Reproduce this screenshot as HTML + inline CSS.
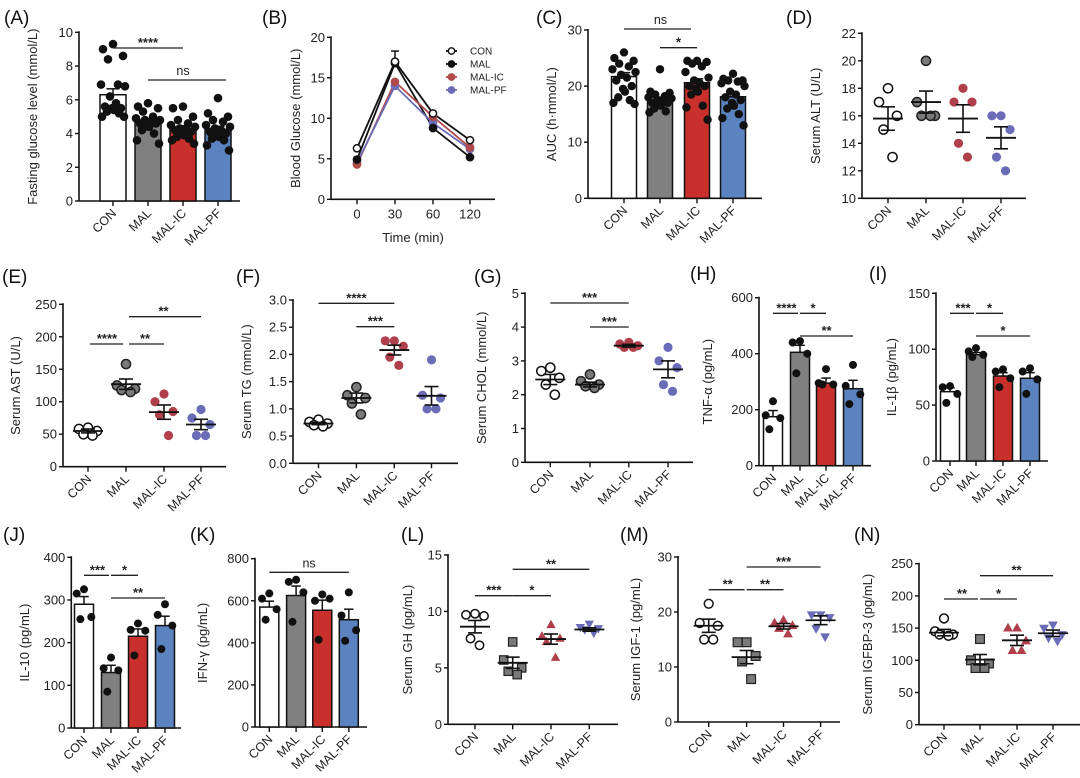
<!DOCTYPE html>
<html><head><meta charset="utf-8"><style>
html,body{margin:0;padding:0;background:#fff;}
svg{display:block;font-family:"Liberation Sans",Arial,sans-serif;}
</style></head><body>
<svg id="fig" width="1080" height="778" viewBox="0 0 1080 778" xmlns="http://www.w3.org/2000/svg"></svg>
<script>
const NS="http://www.w3.org/2000/svg";
const svg=document.getElementById('fig');
const cats=["CON","MAL","MAL-IC","MAL-PF"];
// ---- data ----
const A_pts=[[9.3,9.0,8.6,8.4,6.9,6.9,6.8,6.2,5.8,5.6,5.5,5.5,5.4,5.3,5.2,5.0,5.0],[5.8,5.6,5.5,5.3,5.0,4.9,4.8,4.8,4.7,4.6,4.6,4.5,4.4,4.2,4.0,3.6,3.4],[5.6,5.5,5.0,4.8,4.6,4.5,4.4,4.3,4.3,4.2,4.1,4.0,3.9,3.8,3.7,3.6,3.4],[6.1,5.2,5.0,4.8,4.7,4.5,4.4,4.3,4.2,4.1,4.0,3.9,3.8,3.7,3.6,3.3,3.0]];
const A_mean=[6.3,4.65,4.3,4.25]; const A_sem=[0.35,0.17,0.16,0.18];
const A_ticks=[0,2,4,6,8,10];
const B_time=["0","30","60","120"];
const B_con=[6.3,17.0,10.6,7.3], B_mal=[4.9,16.8,8.8,5.2], B_ic=[4.3,14.5,10.2,6.4], B_pf=[4.5,14.0,9.4,6.2];
const B_ticks=[0,5,10,15,20];
const C_pts=[[26,25,24.5,24,23.5,23,22.5,22,21.5,21,20,19.5,19,18,17.5,17,16.8],[23,19,18.8,18.5,18.2,18,17.8,17.5,17.3,17,17,16.8,16.5,16,15.5,15.3],[24.5,24.5,24.3,24,23.5,22.5,21.5,21,20.5,20,20,19.5,19,18.5,16.5,16.2,14],[22.2,21.3,21,21,20.8,20.5,20,19,18.5,18,17.5,17,16.5,16,15,14.3,13]];
const C_mean=[21.7,17.6,20.6,18.1]; const C_sem=[0.7,0.45,0.7,0.65];
const C_ticks=[0,10,20,30];
const D_pts=[[18,17,16,15,13],[20,17,16,16,16],[18,17,17,14,13],[16,16,15,13,12]];
const D_mean=[15.8,17,15.8,14.4]; const D_sem=[0.85,0.8,1.0,0.8];
const D_ticks=[10,12,14,16,18,20,22];
const E_pts=[[60,58,55,50,48],[158,125,120,118,115],[112,100,85,80,48],[88,75,65,48,48]];
const E_mean=[55,127,84,65]; const E_sem=[3,8,11,8];
const E_ticks=[0,50,100,150,200,250];
const F_pts=[[0.8,0.76,0.73,0.7,0.68],[1.4,1.25,1.2,1.1,0.9],[2.25,2.25,2.15,1.95,1.8],[1.9,1.25,1.2,1.0,1.0]];
const F_mean=[0.73,1.2,2.08,1.24]; const F_sem=[0.02,0.09,0.09,0.17];
const F_ticks=["0.0","0.5","1.0","1.5","2.0","2.5","3.0"];
const G_pts=[[2.8,2.7,2.5,2.3,2.0],[2.6,2.4,2.3,2.25,2.2],[3.55,3.5,3.45,3.4,3.4],[3.4,3.0,2.8,2.3,2.1]];
const G_mean=[2.45,2.3,3.45,2.75]; const G_sem=[0.15,0.07,0.04,0.25];
const G_ticks=[0,1,2,3,4,5];
const H_pts=[[230,180,170,130],[445,440,400,330],[345,295,290,290],[360,285,255,220]];
const H_mean=[175,405,295,275]; const H_sem=[22,25,18,30];
const H_ticks=[0,200,400,600];
const I_pts=[[67,66,60,52],[101,98,95,93],[82,80,74,66],[83,80,73,60]];
const I_mean=[62,95,76,74]; const I_sem=[3.5,2,3,5];
const I_ticks=[0,50,100,150];
const J_pts=[[325,315,260,255],[165,140,135,85],[245,230,228,170],[290,265,240,185]];
const J_mean=[290,130,215,240]; const J_sem=[18,17,17,22];
const J_ticks=[0,100,200,300,400];
const K_pts=[[635,610,560,510],[700,690,640,500],[630,600,610,415],[640,530,460,410]];
const K_mean=[570,625,555,510]; const K_sem=[28,45,48,50];
const K_ticks=[0,200,400,600,800];
const L_pts=[[9.8,9.7,9.6,7.6,7.0],[7.3,5.7,5.0,4.7,4.4],[8.8,7.8,7.6,7.3,5.9],[8.9,8.6,8.5,8.4,8.1]];
const L_mean=[8.65,5.45,7.55,8.4]; const L_sem=[0.55,0.5,0.45,0.15];
const L_ticks=[0,5,10,15];
const M_pts=[[21.5,18,17.5,15,15],[14.5,14.5,12,11,7.8],[18.5,18,17.5,17,16],[19.5,19.5,19,17,15.5]];
const M_mean=[17.5,11.8,17.4,18.5]; const M_sem=[1.2,1.2,0.5,0.8];
const M_ticks=[0,10,20,30];
const N_pts=[[165,145,140,140,138],[133,100,95,88,88],[150,150,130,115,115],[155,150,140,135,130]];
const N_mean=[143,101,131,142]; const N_sem=[5,8,8,5];
const N_ticks=[0,50,100,150,200,250];

const BARFILL=["#ffffff","#808080","#c9302c","#5a83bf"];
const DOTCOL=["#ffffff","#7a7a7a","#b03f4c","#6a6cb8"];
const JIT=[0,-10,10,-5,5,-12,12,-3,3,-8,8,-1,1,-6,6,-11,11];

function mk(tag,attrs,name,parent){
  const e=document.createElementNS(NS,tag);
  for(const k in attrs) e.setAttribute(k,attrs[k]);
  
  
  (parent||svg).appendChild(e); return e;
}
function txt(s,attrs,name,parent){const t=mk('text',attrs,name,parent);t.textContent=s;return t;}

function axes(p){
  const g=mk('g',{},'panel-'+p.id);
  p.g=g;
  p.y=v=>p.y0-(v-p.min)/(p.max-p.min)*(p.y0-p.yTop);
  txt('('+p.id+')',{x:p.lx,y:p.ly,'font-size':19,fill:'#111'},'panel-label-'+p.id,g);
  mk('line',{x1:p.ax,y1:p.yTop-1,x2:p.ax,y2:p.y0,stroke:'#111','stroke-width':1.6},'y-axis',g);
  mk('line',{x1:p.ax,y1:p.y0,x2:p.xEnd,y2:p.y0,stroke:'#111','stroke-width':1.6},'x-axis',g);
  p.ticks.forEach(t=>{const v=parseFloat(t);const y=p.y(v);
    mk('line',{x1:p.ax-4,y1:y,x2:p.ax,y2:y,stroke:'#111','stroke-width':1.4},'y-tick',g);
    txt(String(t),{x:p.ax-6,y:y+4.5,'font-size':13,'text-anchor':'end',fill:'#222'},'y-tick-label',g);});
  const cy=(p.y0+p.yTop)/2;
  txt(p.title,{x:p.tx,y:cy,'font-size':13,'text-anchor':'middle',fill:'#222',transform:`rotate(-90 ${p.tx} ${cy})`},'y-axis-title',g);
  p.xs.forEach((x,i)=>{
    mk('line',{x1:x,y1:p.y0,x2:x,y2:p.y0+5,stroke:'#111','stroke-width':1.4},'x-tick',g);
    if(p.xlab){txt(p.xlab[i],{x:x,y:p.y0+19,'font-size':13,'text-anchor':'middle',fill:'#222'},'x-tick-label',g);}
    else{const tx=x+4,ty=p.y0+13;
      txt(cats[i],{x:tx,y:ty,'font-size':12.5,'text-anchor':'end',fill:'#222',transform:`rotate(-45 ${tx} ${ty})`},'category-label-'+cats[i].toLowerCase(),g);}
  });
}
function sig(p,i,j,y,s){
  mk('line',{x1:p.xs[i]+(p.si||0),y1:y,x2:p.xs[j]-(p.sj||0),y2:y,stroke:'#222','stroke-width':1.3},'significance-bar',p.g);
  txt(s,{x:(p.xs[i]+p.xs[j])/2,y:s==='ns'?y-5:y-1,'font-size':s==='ns'?12.5:13,'font-weight':s==='ns'?'normal':'bold','text-anchor':'middle',fill:'#222'},'significance-label',p.g);
}
function bars(p,pts,mean,sem,bw,r){
  mean.forEach((m,i)=>{const x=p.xs[i];
    mk('rect',{x:x-bw/2,y:p.y(m),width:bw,height:p.y0-p.y(m),fill:BARFILL[i],stroke:'#111','stroke-width':1.5},'bar-'+cats[i].toLowerCase(),p.g);
  });
  pts.forEach((arr,i)=>arr.forEach((v,k)=>{
    mk('circle',{cx:p.xs[i]+JIT[k]*(bw/26),cy:p.y(v),r:r,fill:'#111'},'data-point',p.g);}));
  mean.forEach((m,i)=>{const x=p.xs[i];const yt=p.y(m+sem[i]);
    mk('line',{x1:x,y1:p.y(m),x2:x,y2:yt,stroke:'#111','stroke-width':1.5},'error-bar',p.g);
    mk('line',{x1:x-bw/4,y1:yt,x2:x+bw/4,y2:yt,stroke:'#111','stroke-width':1.5},'error-cap',p.g);});
}
function marker(p,shape,x,y,i,r){
  const fill=DOTCOL[i];
  if(shape==='circle') mk('circle',{cx:x,cy:y,r:r,fill:fill,stroke:i===0?'#111':(i===1?'#222':fill),'stroke-width':i<2?1.5:0},'data-point',p.g);
  else if(shape==='square') mk('rect',{x:x-r,y:y-r,width:2*r,height:2*r,fill:fill,stroke:'#222','stroke-width':1.2},'data-point',p.g);
  else if(shape==='up') mk('polygon',{points:`${x},${y-r-1} ${x-r-0.5},${y+r-1} ${x+r+0.5},${y+r-1}`,fill:fill},'data-point',p.g);
  else mk('polygon',{points:`${x},${y+r+1} ${x-r-0.5},${y-r+1} ${x+r+0.5},${y-r+1}`,fill:fill},'data-point',p.g);
}
function scatter(p,pts,mean,sem,shapes){
  const r=p.r||4.6;
  pts.forEach((arr,i)=>arr.forEach((v,k)=>{marker(p,shapes[i],p.xs[i]+JIT[k]*0.9,p.y(v),i,r);}));
  mean.forEach((m,i)=>{const x=p.xs[i];
    mk('line',{x1:x-15,y1:p.y(m),x2:x+15,y2:p.y(m),stroke:'#111','stroke-width':1.8},'mean-line',p.g);
    mk('line',{x1:x,y1:p.y(m-sem[i]),x2:x,y2:p.y(m+sem[i]),stroke:'#111','stroke-width':1.6},'sem-bar',p.g);
    [m-sem[i],m+sem[i]].forEach(v=>mk('line',{x1:x-7,y1:p.y(v),x2:x+7,y2:p.y(v),stroke:'#111','stroke-width':1.6},'sem-cap',p.g));
  });
}
const circ=['circle','circle','circle','circle'], shp=['circle','square','up','down'];

// (A)
let A={id:'A',ax:79,y0:201,yTop:32.3,min:0,max:10,xs:[113,148,183,218],xEnd:240,ticks:A_ticks,title:'Fasting glucose level (mmol/L)',tx:37,lx:4,ly:24};
axes(A);bars(A,A_pts,A_mean,A_sem,26,4.3);sig(A,0,2,48,'****');A.sj=-8;sig(A,1,3,80,'ns');

// (B)
let B={id:'B',ax:331,y0:199.3,yTop:37.3,min:0,max:20,xs:[357,395,433,470],xEnd:495,ticks:B_ticks,title:'Blood Glucose (mmol/L)',tx:300,lx:262,ly:24,xlab:B_time};
axes(B);
txt('Time (min)',{x:413,y:242,'font-size':13,'text-anchor':'middle',fill:'#222'},'x-axis-title',B.g);
const Bser=[[B_con,'#111','#fff','CON'],[B_mal,'#111','#111','MAL'],[B_ic,'#b04a4a','#b04a4a','MAL-IC'],[B_pf,'#6b6cb8','#6b6cb8','MAL-PF']];
Bser.forEach((s,si)=>{
  const d=s[0].map((v,i)=>(i?'L':'M')+B.xs[i]+','+B.y(v)).join(' ');
  mk('path',{d:d,fill:'none',stroke:s[1],'stroke-width':1.8},'line-'+s[3].toLowerCase(),B.g);
});
mk('line',{x1:B.xs[1],y1:B.y(B_con[1]),x2:B.xs[1],y2:B.y(18.3),stroke:'#111','stroke-width':1.5},'error-bar',B.g);
mk('line',{x1:B.xs[1]-4,y1:B.y(18.3),x2:B.xs[1]+4,y2:B.y(18.3),stroke:'#111','stroke-width':1.5},'error-cap',B.g);
Bser.slice().reverse().forEach(s=>s[0].forEach((v,i)=>mk('circle',{cx:B.xs[i],cy:B.y(v),r:3.6,fill:s[2],stroke:s[1],'stroke-width':1.5},'point-'+s[3].toLowerCase(),B.g)));
Bser.forEach((s,si)=>{const y=51+si*13;
  mk('line',{x1:446,y1:y,x2:457,y2:y,stroke:s[1],'stroke-width':1.8},'legend-line',B.g);
  mk('circle',{cx:451.5,cy:y,r:3.2,fill:s[2],stroke:s[1],'stroke-width':1.4},'legend-marker',B.g);
  txt(s[3],{x:470,y:y+3.5,'font-size':10,fill:'#222'},'legend-entry',B.g);});

// (C)
let C={id:'C',ax:588,y0:198.3,yTop:30,min:0,max:30,xs:[624,660,697,733],xEnd:762,ticks:C_ticks,title:'AUC (h·mmol/L)',tx:556,lx:536,ly:24};
axes(C);bars(C,C_pts,C_mean,C_sem,25,4.2);C.sj=6;sig(C,0,2,29,'ns');C.sj=0;sig(C,1,2,47.7,'*');

// (D)
let D={id:'D',ax:862,y0:198.3,yTop:33.3,min:10,max:22,xs:[888,926,963,1001],xEnd:1026,ticks:D_ticks,title:'Serum ALT (U/L)',tx:820,lx:786,ly:24};
axes(D);scatter(D,D_pts,D_mean,D_sem,circ);

// (E)
let E={id:'E',ax:63,y0:466.7,yTop:304.3,min:0,max:250,xs:[88,126,164,201],xEnd:226,ticks:E_ticks,title:'Serum AST (U/L)',tx:20,lx:2,ly:283};
axes(E);scatter(E,E_pts,E_mean,E_sem,circ);E.si=2;E.sj=3;sig(E,0,1,344,'****');E.si=3;E.sj=0;sig(E,1,2,344,'**');sig(E,1,3,316.7,'**');

// (F)
let F={id:'F',ax:293,y0:463.3,yTop:300,min:0,max:3,xs:[318.5,356.4,394.3,431.5],xEnd:458,ticks:F_ticks,title:'Serum TG (mmol/L)',tx:251,lx:236,ly:283};
axes(F);scatter(F,F_pts,F_mean,F_sem,circ);F.si=0;F.sj=0;sig(F,0,2,303.3,'****');sig(F,1,2,326.7,'***');

// (G)
let G={id:'G',ax:525,y0:462.3,yTop:293.3,min:0,max:5,xs:[550.3,590,628.8,668],xEnd:693,ticks:G_ticks,title:'Serum CHOL (mmol/L)',tx:486,lx:474,ly:283};
axes(G);scatter(G,G_pts,G_mean,G_sem,circ);sig(G,0,2,303,'***');sig(G,1,2,327,'***');

// (H)
let H={id:'H',ax:759,y0:465.7,yTop:297.7,min:0,max:600,xs:[773,800,826,853],xEnd:871,ticks:H_ticks,title:'TNF-α (pg/mL)',tx:712,lx:690,ly:280};
axes(H);bars(H,H_pts,H_mean,H_sem,19,4);H.sj=2;sig(H,0,1,313.3,'****');H.sj=0;sig(H,1,2,313.3,'*');H.si=0;sig(H,1,3,336,'**');

// (I)
let I={id:'I',ax:936,y0:461,yTop:293.3,min:0,max:150,xs:[950,976,1003,1030],xEnd:1048,ticks:I_ticks,title:'IL-1β (pg/mL)',tx:896,lx:869,ly:280};
axes(I);bars(I,I_pts,I_mean,I_sem,19,4);I.sj=2;sig(I,0,1,313.3,'***');I.sj=0;sig(I,1,2,313.3,'*');sig(I,1,3,336,'*');

// (J)
let J={id:'J',ax:71.3,y0:728,yTop:557.3,min:0,max:400,xs:[84,111,138,165],xEnd:181,ticks:J_ticks,title:'IL-10 (pg/mL)',tx:29,lx:3,ly:541};
axes(J);bars(J,J_pts,J_mean,J_sem,19,4);J.sj=2;sig(J,0,1,575.3,'***');J.sj=0;sig(J,1,2,575.3,'*');sig(J,1,3,598,'**');

// (K)
let K={id:'K',ax:255,y0:727,yTop:558.7,min:0,max:800,xs:[269.3,296.1,322.3,348.8],xEnd:367,ticks:K_ticks,title:'IFN-γ (pg/mL)',tx:207,lx:190,ly:541};
axes(K);bars(K,K_pts,K_mean,K_sem,19,4);sig(K,0,3,572.3,'ns');

// (L)
let L={id:'L',ax:448,y0:724.3,yTop:555,min:0,max:15,xs:[475,512.7,551,589.3],xEnd:618,ticks:L_ticks,title:'Serum GH (pg/mL)',tx:412,lx:401,ly:541,r:4.2};
axes(L);scatter(L,L_pts,L_mean,L_sem,shp);sig(L,0,1,595.7,'***');sig(L,1,2,595.7,'*');sig(L,1,3,569.3,'**');

// (M)
let M={id:'M',ax:678,y0:722,yTop:557,min:0,max:30,xs:[708.7,746.6,783.5,820.6],xEnd:840,ticks:M_ticks,title:'Serum  IGF-1 (pg/mL)',tx:640,lx:620,ly:541,r:4.4};
axes(M);scatter(M,M_pts,M_mean,M_sem,shp);M.sj=2;sig(M,0,1,589.7,'**');M.sj=0;sig(M,1,2,589.7,'**');sig(M,1,3,567,'***');

// (N)
let N={id:'N',ax:919,y0:724.7,yTop:563.7,min:0,max:250,xs:[944,980,1017,1053],xEnd:1080,ticks:N_ticks,title:'Serum IGFBP-3 (pg/mL)',tx:872,lx:854,ly:541,r:4.4};
axes(N);scatter(N,N_pts,N_mean,N_sem,shp);N.sj=2;sig(N,0,1,599,'**');N.sj=0;sig(N,1,2,599,'*');sig(N,1,3,575.7,'**');
</script>
</body></html>
